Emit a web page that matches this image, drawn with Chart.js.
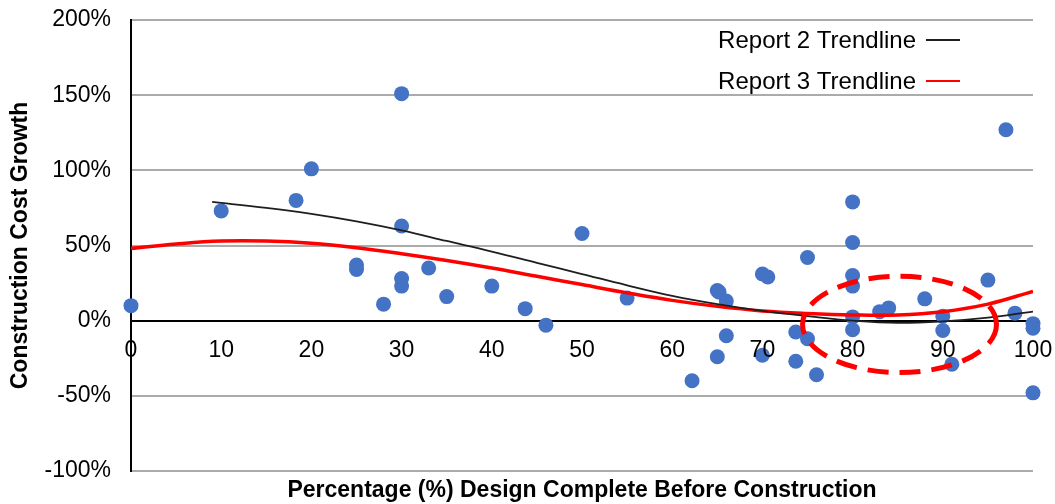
<!DOCTYPE html>
<html>
<head>
<meta charset="utf-8">
<script src="https://cdn.jsdelivr.net/npm/chart.js@4.4.1/dist/chart.umd.min.js"></script>
<style>
  html, body { margin: 0; padding: 0; background: #fff; }
  #wrap { width: 1055px; height: 504px; }
</style>
</head>
<body>
<div id="wrap"><canvas id="growthChart" width="1055" height="504"></canvas></div>
<script>
// Project data
const designPct = [0, 10, 18.3, 20, 25, 25, 28, 30, 30, 30, 30, 33, 35, 40, 43.7, 46, 50, 55,
    62.2, 65, 65.2, 66, 66, 65, 70, 70.6, 70, 75, 73.7, 75, 73.7, 76,
    80, 80, 80, 80, 80, 80, 83, 84, 88, 90, 90, 91, 95, 97, 98, 100, 100, 100];
const costGrowth = [10, 73, 80, 101, 37, 34, 11, 151, 63, 28, 23, 35, 16, 23, 8, -3, 58, 15,
    -40, 20, 19, 13, -10, -24, 31, 29, -23, 42, -7.5, -12, -27, -36,
    79, 52, 30, 23, 2.5, -6, 6, 8.5, 14.5, 3, -6.5, -29, 27, 127, 5, -2, -5, -48];

// Trendlines
const report2X = [9, 15, 20, 25, 30, 35, 40, 45, 50, 55, 60, 65, 70, 75, 80, 85, 90, 95, 100];
const report2Y = [79, 75, 71, 66, 60, 53, 46, 38.5, 31, 23.5, 16.5, 11, 6.5, 3, 0, -1.5, -0.5, 2, 6];
const report3X = [0, 5, 10, 15, 20, 25, 30, 35, 40, 45, 50, 55, 60, 65, 70, 75, 80, 85, 90, 95, 100];
const report3Y = [48, 51, 53, 53, 51.5, 48.5, 44.5, 40, 35, 29.5, 24, 18.5, 13.5, 9.5, 6.5, 4.8, 3.8, 3.8, 6, 11, 19.5];

// Highlight ellipse (data units)
const highlightCenter = [85.2, -2.5];
const highlightRadius = [10.75, 32];

const FONT = "'Liberation Sans', Arial, sans-serif";

const toPoints = (xs, ys) => xs.map((x, i) => ({ x: x, y: ys[i] }));

// x tick labels sit on the 0% line, so they are drawn here
const zeroAxisLabels = {
    id: 'zeroAxisLabels',
    afterDraw(chart) {
        const ctx = chart.ctx;
        const xs = chart.scales.x;
        const y0 = chart.scales.y.getPixelForValue(0);
        ctx.save();
        ctx.font = '23px ' + FONT;
        ctx.fillStyle = '#000';
        ctx.textAlign = 'center';
        ctx.textBaseline = 'middle';
        xs.ticks.forEach(t => {
            ctx.fillText(String(t.value), xs.getPixelForValue(t.value), y0 + 30);
        });
        ctx.restore();
    }
};

// Red dashed ellipse around the 80-90% group
const highlight = {
    id: 'highlight',
    afterDatasetsDraw(chart) {
        const ctx = chart.ctx;
        const xs = chart.scales.x, ys = chart.scales.y;
        const cx = xs.getPixelForValue(highlightCenter[0]);
        const cy = ys.getPixelForValue(highlightCenter[1]);
        const rx = xs.getPixelForValue(highlightCenter[0] + highlightRadius[0]) - cx;
        const ry = cy - ys.getPixelForValue(highlightCenter[1] + highlightRadius[1]);
        ctx.save();
        ctx.strokeStyle = '#ff0000';
        ctx.lineWidth = 5;
        ctx.setLineDash([21, 11]);
        ctx.beginPath();
        ctx.ellipse(cx, cy, rx, ry, 0, 0, Math.PI * 2);
        ctx.stroke();
        ctx.restore();
    }
};

// Legend inside plot: text then line sample on the right
const insideLegend = {
    id: 'insideLegend',
    afterDraw(chart) {
        const ctx = chart.ctx;
        const area = chart.chartArea;
        const lines = chart.data.datasets.filter(d => d.showLine);
        ctx.save();
        ctx.font = '24px ' + FONT;
        ctx.textAlign = 'right';
        ctx.textBaseline = 'middle';
        lines.forEach((d, i) => {
            const y = area.top + 20 + i * 41;
            ctx.fillStyle = '#000';
            ctx.fillText(d.label, area.right - 117, y + 1);
            ctx.strokeStyle = d.borderColor;
            ctx.lineWidth = 2;
            ctx.beginPath();
            ctx.moveTo(area.right - 107, y);
            ctx.lineTo(area.right - 73, y);
            ctx.stroke();
        });
        ctx.restore();
    }
};

new Chart(document.getElementById('growthChart'), {
    type: 'scatter',
    data: {
        datasets: [
            {
                label: 'Report 2 Trendline',
                data: toPoints(report2X, report2Y),
                showLine: true,
                borderColor: '#1e1e1e',
                borderWidth: 1.8,
                pointRadius: 0,
                tension: 0.4,
                order: 0
            },
            {
                label: 'Report 3 Trendline',
                data: toPoints(report3X, report3Y),
                showLine: true,
                borderColor: '#ff0000',
                borderWidth: 3.5,
                pointRadius: 0,
                tension: 0.4,
                order: 0
            },
            {
                label: 'Projects',
                data: toPoints(designPct, costGrowth),
                backgroundColor: '#4472c4',
                borderWidth: 0,
                pointRadius: 7.5,
                clip: false,
                order: 1
            }
        ]
    },
    options: {
        responsive: false,
        animation: false,
        layout: { padding: { top: 20, right: 22, left: 0, bottom: 0 } },
        plugins: {
            legend: { display: false },
            tooltip: { enabled: false }
        },
        scales: {
            x: {
                type: 'linear',
                min: 0,
                max: 100,
                ticks: { stepSize: 10, display: false },
                grid: { display: false },
                border: { display: false },
                title: {
                    display: true,
                    text: 'Percentage (%) Design Complete Before Construction',
                    color: '#000',
                    font: { family: FONT, size: 23, weight: 'bold' },
                    padding: { top: 5, bottom: 0 }
                },
                afterFit: s => { s.height = 33; s.paddingLeft = 0; s.paddingRight = 0; }
            },
            y: {
                min: -100,
                max: 200,
                ticks: {
                    stepSize: 50,
                    color: '#000',
                    padding: 20,
                    font: { family: FONT, size: 23 },
                    callback: v => v + '%'
                },
                grid: {
                    drawTicks: false,
                    color: c => c.tick && c.tick.value === 0 ? '#000' : '#ababab',
                    lineWidth: 2
                },
                border: { color: '#000', width: 2 },
                title: {
                    display: true,
                    text: 'Construction Cost Growth',
                    color: '#000',
                    font: { family: FONT, size: 23, weight: 'bold' },
                    padding: { top: 7, bottom: 0 }
                },
                afterFit: s => { s.width = 131; s.paddingTop = 0; s.paddingBottom = 0; }
            }
        }
    },
    plugins: [highlight, zeroAxisLabels, insideLegend]
});
</script>
</body>
</html>
